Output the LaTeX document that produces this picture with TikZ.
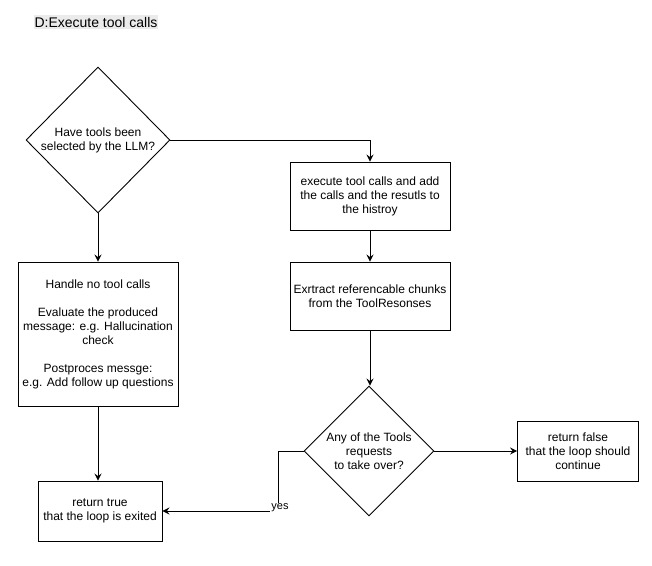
\documentclass[tikz,border=0pt]{standalone}
\usepackage{fontspec}
\setmainfont{Liberation Sans}
\usetikzlibrary{shapes.geometric,arrows.meta}
\begin{document}
\begin{tikzpicture}[x=1pt,y=-1pt,
  every node/.style={font=\fontsize{12}{14}\selectfont, align=center, inner sep=0pt},
  box/.style={draw, line width=0.9pt, rectangle},
  dia/.style={draw, line width=0.9pt, diamond, inner sep=0pt},
  arr/.style={draw, line width=0.9pt, -{Stealth[length=7pt,width=7pt,inset=2.5pt]}},
  lbl/.style={font=\fontsize{11}{13}\selectfont, fill=white, inner sep=1pt}]
\useasboundingbox (0,0) rectangle (652,565);
\node[fill=black!8, inner xsep=1pt, inner ysep=2pt, font=\fontsize{14}{16}\selectfont] (title) at (96,22) {D:Execute tool calls};
\node[dia, minimum width=144pt, minimum height=146pt] (d1) at (98,140) {Have tools been\\selected by the LLM?};
\node[box, minimum width=160pt, minimum height=144pt] (nt) at (98,334) {Handle no tool calls\\[14pt]Evaluate the produced\\message: e.g. Hallucination\\check\\[14pt]Postproces messge:\\e.g. Add follow up questions};
\node[box, minimum width=124pt, minimum height=60pt] (rt) at (100,511) {return true\\that the loop is exited};
\node[box, minimum width=160pt, minimum height=68pt] (ex) at (370,196) {execute tool calls and add\\the calls and the resutls to\\the histroy};
\node[box, minimum width=160pt, minimum height=68pt] (xr) at (370,296) {Exrtract referencable chunks\\from the ToolResonses};
\node[dia, minimum width=130pt, minimum height=130pt] (d2) at (369,451) {Any of the Tools\\requests\\to take over?};
\node[box, minimum width=121pt, minimum height=60pt] (rf) at (578,451) {return false\\that the loop should\\continue};
\coordinate (k) at (278,511);
\draw[arr] (d1.east) -| (ex.north);
\draw[arr] (ex.south) -- (xr.north);
\draw[arr] (xr.south) -- (xr.south |- d2.north);
\draw[arr] (d1.south) -- (nt.north);
\draw[arr] (nt.south) -- (nt.south |- rt.north);
\draw[arr] (d2.east) -- (rf.west);
\draw[arr] (d2.west) -| (k) -- (rt.east);
\node[lbl] (yes) at (280,508) {yes};
\end{tikzpicture}
\end{document}
